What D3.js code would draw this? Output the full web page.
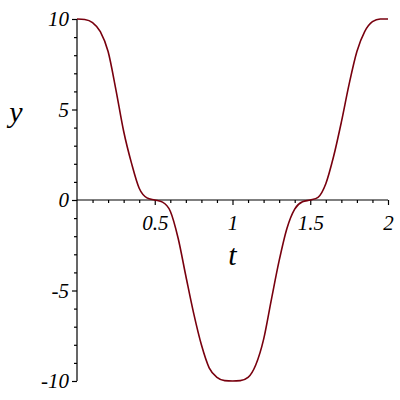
<!DOCTYPE html>
<html>
<head>
<meta charset="utf-8">
<script src="https://cdn.jsdelivr.net/npm/d3@7"></script>
<style>
  body { margin: 0; background: #fff; }
</style>
</head>
<body>
<svg id="chart"></svg>
<script>
// values
const tValues = [0, 0.05, 0.1, 0.15, 0.2, 0.25, 0.3, 0.35, 0.4, 0.45, 0.5,
  0.55, 0.6, 0.65, 0.7, 0.75, 0.8, 0.85, 0.9, 0.95, 1,
  1.05, 1.1, 1.15, 1.2, 1.25, 1.3, 1.35, 1.4, 1.45, 1.5,
  1.55, 1.6, 1.65, 1.7, 1.75, 1.8, 1.85, 1.9, 1.95, 2];
const yValues = [10, 9.97, 9.8, 9.3, 8.2, 6.1, 3.8, 2.05, 0.65, 0.12, 0,
  -0.12, -0.62, -2.1, -4.2, -6.25, -8.0, -9.27, -9.8, -9.98, -10,
  -9.98, -9.8, -9.1, -7.7, -5.5, -3.35, -1.57, -0.5, -0.1, 0,
  0.15, 0.9, 2.4, 4.3, 6.4, 8.2, 9.3, 9.85, 10, 10];

const xMajor = [0.5, 1, 1.5, 2];
const xMinor = [0.1, 0.2, 0.3, 0.4, 0.6, 0.7, 0.8, 0.9, 1.1, 1.2, 1.3, 1.4, 1.6, 1.7, 1.8, 1.9];
const xLabels = ["0.5", "1", "1.5", "2"];
const yMajor = [10, 5, 0, -5, -10];
const yMinor = [9, 8, 7, 6, 4, 3, 2, 1, -1, -2, -3, -4, -6, -7, -8, -9];
const yLabels = ["10", "5", "0", "-5", "-10"];

const width = 400, height = 400;
const plot = { left: 77, right: 388, top: 19, bottom: 381 };
const serif = '"Liberation Serif", "Times New Roman", serif';

const svg = d3.select('#chart')
  .attr('width', width)
  .attr('height', height);

const xScale = d3.scaleLinear().domain([0, 2]).range([plot.left, plot.right]);
const yScale = d3.scaleLinear().domain([-10, 10]).range([plot.bottom, plot.top]);

// x axis sits on y = 0
const xAxisG = svg.append('g')
  .attr('class', 'axis')
  .attr('transform', `translate(0,${yScale(0)})`);

xAxisG.append('g')
  .call(d3.axisBottom(xScale).tickValues(xMinor).tickSize(3).tickFormat(''))
  .call(g => g.select('.domain').remove());

xAxisG.append('g')
  .call(d3.axisBottom(xScale).tickValues(xMajor).tickSize(5).tickPadding(10)
    .tickFormat((d, i) => xLabels[i]))
  .call(g => g.select('.domain').attr('d', `M${plot.left},0H${plot.right}`));

// y axis sits on t = 0
const yAxisG = svg.append('g')
  .attr('class', 'axis')
  .attr('transform', `translate(${xScale(0)},0)`);

yAxisG.append('g')
  .call(d3.axisLeft(yScale).tickValues(yMinor).tickSize(3).tickFormat(''))
  .call(g => g.select('.domain').remove());

yAxisG.append('g')
  .call(d3.axisLeft(yScale).tickValues(yMajor).tickSize(5).tickPadding(3)
    .tickFormat((d, i) => yLabels[i]))
  .call(g => g.select('.domain').attr('d', `M0,${plot.top}V${plot.bottom}`));

svg.selectAll('.axis g').attr('font-family', serif).attr('font-size', 21);
svg.selectAll('.axis text')
  .attr('font-family', serif)
  .attr('font-style', 'italic')
  .attr('font-size', 21)
  .attr('fill', '#000');
svg.selectAll('.axis line, .axis path').attr('stroke', '#000').attr('stroke-width', 1.2);

// axis titles
svg.append('text')
  .attr('x', 16)
  .attr('y', 122)
  .attr('text-anchor', 'middle')
  .attr('font-family', serif)
  .attr('font-style', 'italic')
  .attr('font-size', 30)
  .text('y');

svg.append('text')
  .attr('x', xScale(1))
  .attr('y', 265)
  .attr('text-anchor', 'middle')
  .attr('font-family', serif)
  .attr('font-style', 'italic')
  .attr('font-size', 30)
  .text('t');

// the curve
const points = tValues.map((t, i) => ({ t: t, y: yValues[i] }));
const line = d3.line()
  .x(d => xScale(d.t))
  .y(d => yScale(d.y))
  .curve(d3.curveMonotoneX);

svg.append('path')
  .datum(points)
  .attr('fill', 'none')
  .attr('stroke', '#78000E')
  .attr('stroke-width', 1.6)
  .attr('d', line);
</script>
</body>
</html>
